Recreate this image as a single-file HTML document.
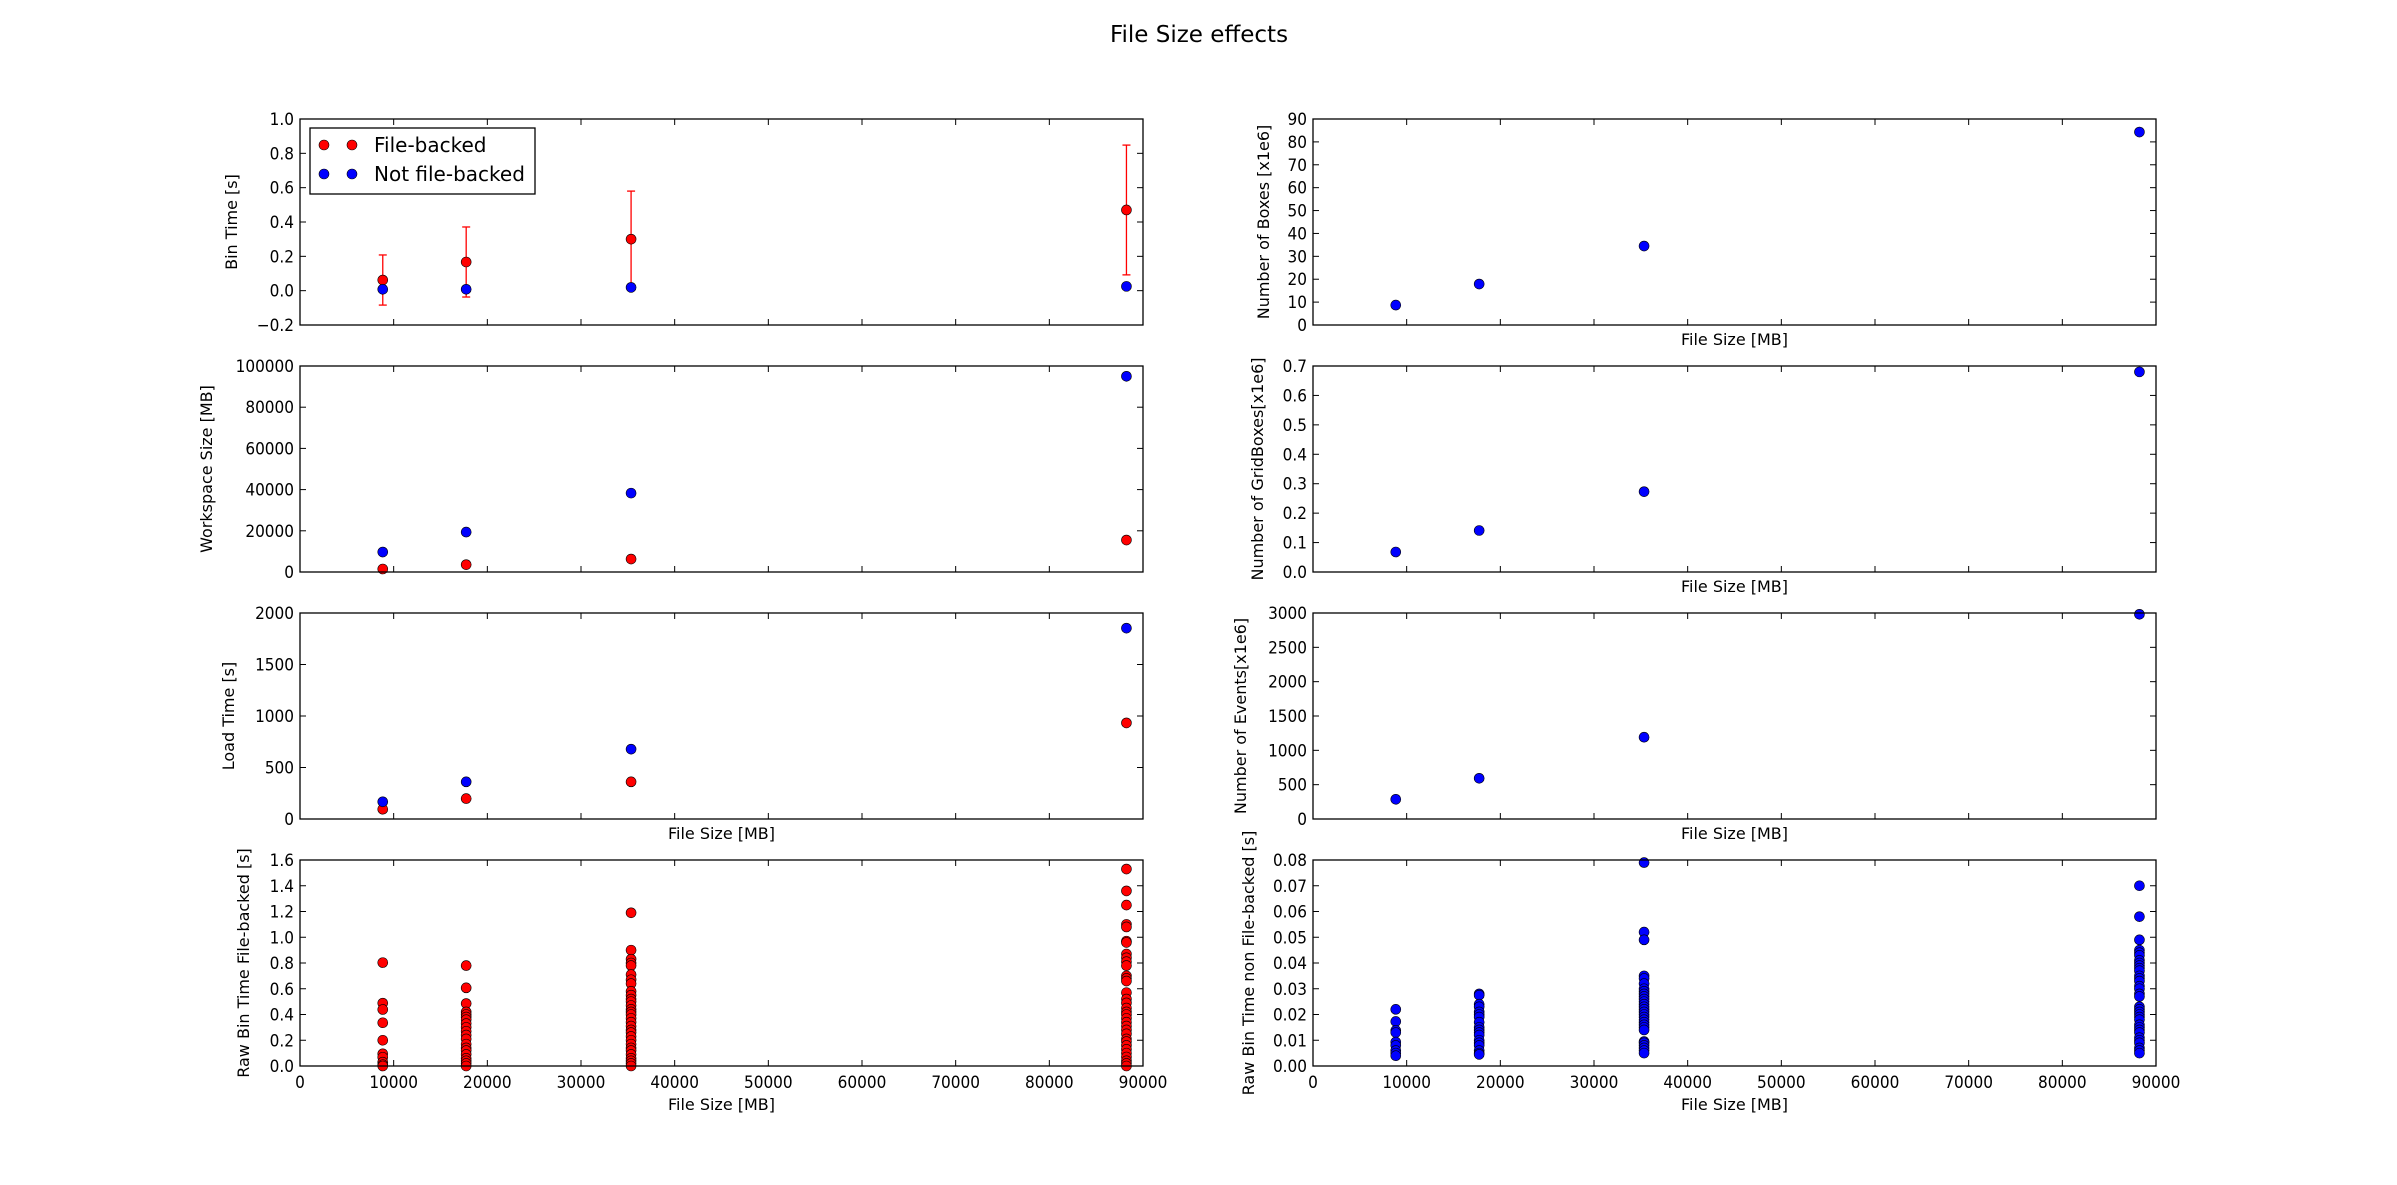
<!DOCTYPE html>
<html><head><meta charset="utf-8"><style>
html,body{margin:0;padding:0;background:#fff;}
svg{display:block;}
text{font-family:"DejaVu Sans","Liberation Sans",sans-serif;fill:#000;}
.tk{font-family:"DejaVu Sans Condensed","Liberation Sans Narrow","DejaVu Sans",sans-serif;font-size:17px;}
.lb{font-size:16px;}
</style></head><body>
<svg id="fig" width="2397" height="1185" viewBox="0 0 2397 1185" xmlns="http://www.w3.org/2000/svg">
<rect width="2397" height="1185" fill="#fff"/>
<text x="1199" y="42" text-anchor="middle" font-size="23">File Size effects</text>
</svg>
<script>
// ---- data ----
const fileSizes = [8837, 17742, 35347, 88233];
const binTimeFB = [0.062, 0.167, 0.30, 0.47];
const binTimeFBErr = [0.146, 0.204, 0.28, 0.378];
const binTimeNFB = [0.008, 0.008, 0.019, 0.025];
const wsFB = [1454, 3554, 6300, 15509];
const wsNFB = [9693, 19386, 38288, 95000];
const loadFB = [95, 198, 361, 933];
const loadNFB = [167, 361, 678, 1853];
const boxes = [8.7, 17.9, 34.5, 84.3];
const gridBoxes = [0.068, 0.141, 0.273, 0.68];
const events = [287, 593, 1191, 2981];
const rawFB0 = [0.803,0.488,0.439,0.336,0.2,0.095,0.068,0.03,0.01,0.0];
const rawFB1 = [0.78,0.607,0.485,0.42,0.40,0.38,0.36,0.33,0.30,0.27,0.24,0.21,0.17,0.14,0.12,0.09,0.06,0.04,0.02,0.0];
const rawFB2 = [1.19,0.90,0.83,0.80,0.78,0.71,0.67,0.64,0.58,0.55,0.52,0.50,0.47,0.44,0.42,0.40,0.37,0.34,0.31,0.28,0.26,0.23,0.20,0.17,0.14,0.12,0.09,0.06,0.04,0.02,0.0];
const rawFB3 = [1.53,1.36,1.25,1.10,1.08,0.97,0.96,0.87,0.84,0.81,0.78,0.70,0.68,0.66,0.57,0.52,0.49,0.45,0.42,0.40,0.37,0.34,0.31,0.28,0.25,0.21,0.19,0.16,0.13,0.10,0.07,0.04,0.02,0.0];
const rawNFB0 = [0.022,0.0173,0.0138,0.013,0.0093,0.008,0.006,0.005,0.004];
const rawNFB1 = [0.028,0.0275,0.024,0.023,0.021,0.020,0.019,0.017,0.015,0.014,0.013,0.012,0.010,0.009,0.008,0.006,0.005,0.0045];
const rawNFB2 = [0.079,0.052,0.049,0.035,0.034,0.032,0.030,0.029,0.028,0.027,0.026,0.025,0.024,0.023,0.022,0.021,0.020,0.019,0.018,0.017,0.016,0.015,0.014,0.0095,0.009,0.008,0.007,0.006,0.005];
const rawNFB3 = [0.070,0.058,0.049,0.045,0.044,0.043,0.041,0.040,0.039,0.038,0.037,0.035,0.034,0.033,0.031,0.030,0.028,0.027,0.023,0.022,0.021,0.020,0.019,0.018,0.016,0.015,0.014,0.013,0.011,0.010,0.009,0.007,0.006,0.005];
const xTicks = [0,10000,20000,30000,40000,50000,60000,70000,80000,90000];
const yTicks1 = ["-0.2","0.0","0.2","0.4","0.6","0.8","1.0"];
const yTicks2 = ["0","20000","40000","60000","80000","100000"];
const yTicks3 = ["0","500","1000","1500","2000"];
const yTicks4 = ["0.0","0.2","0.4","0.6","0.8","1.0","1.2","1.4","1.6"];
const yTicksR1 = ["0","10","20","30","40","50","60","70","80","90"];
const yTicksR2 = ["0.0","0.1","0.2","0.3","0.4","0.5","0.6","0.7"];
const yTicksR3 = ["0","500","1000","1500","2000","2500","3000"];
const yTicksR4 = ["0.00","0.01","0.02","0.03","0.04","0.05","0.06","0.07","0.08"];

const NS = "http://www.w3.org/2000/svg";
const svg = document.getElementById('fig');
function mk(tag, attrs, parent){
  const e = document.createElementNS(NS, tag);
  for (const k in attrs) e.setAttribute(k, attrs[k]);
  (parent||svg).appendChild(e);
  return e;
}
const tops = [119, 366, 613, 860];
const H = 206;
const lefts = [300, 1313];
const W = 843;

function panel(col, row, name, yTicks, ylabel, ylabX, showXLabel, showXTicks){
  const g = mk('g', {});
  
  
  const x0 = lefts[col], y0 = tops[row];
  const ymin = parseFloat(yTicks[0]), ymax = parseFloat(yTicks[yTicks.length-1]);
  const sx = v => x0 + (v - 0) / 90000 * W;
  const sy = v => y0 + H - (v - ymin) / (ymax - ymin) * H;
  const ax = {g, sx, sy};
  const tg = mk('g', {stroke:'#000','stroke-width':1}, g);
  xTicks.forEach(t => {
    const x = sx(t);
    mk('line', {x1:x, x2:x, y1:y0+H, y2:y0+H-6}, tg);
    mk('line', {x1:x, x2:x, y1:y0, y2:y0+6}, tg);
    if (showXTicks) {
      const tx = mk('text', {x:x, y:y0+H+22, 'text-anchor':'middle', class:'tk', stroke:'none'}, g);
      tx.textContent = t;
      
      
    }
  });
  yTicks.forEach(t => {
    const y = sy(parseFloat(t));
    mk('line', {x1:x0, x2:x0+6, y1:y, y2:y}, tg);
    mk('line', {x1:x0+W, x2:x0+W-6, y1:y, y2:y}, tg);
    const tx = mk('text', {x:x0-6, y:y+6, 'text-anchor':'end', class:'tk'}, g);
    tx.textContent = t.replace('-', '\u2212');
    
    
  });
  const yl = mk('text', {x:0, y:0, 'text-anchor':'middle', class:'lb', transform:`translate(${ylabX},${y0+H/2}) rotate(-90)`}, g);
  yl.textContent = ylabel;
  
  
  if (showXLabel) {
    const xl = mk('text', {x:x0+W/2, y: y0+H+(showXTicks?44:20), 'text-anchor':'middle', class:'lb'}, g);
    xl.textContent = 'File Size [MB]';
    
    
  }
  ax.frame = () => {
    const f = mk('rect', {x:x0, y:y0, width:W, height:H, fill:'none', stroke:'#000', 'stroke-width':1.3}, g);
    
    
  };
  ax.x0 = x0; ax.y0 = y0;
  return ax;
}
function dots(ax, xs, ys, color, name){
  const g = mk('g', {}, ax.g);
  
  
  ys.forEach((v, i) => {
    const c = mk('circle', {cx: ax.sx(xs[i]), cy: ax.sy(v), r:5, fill:color, stroke:'#000', 'stroke-width':0.6}, g);
    
    
  });
}
function column(ax, x, ys, color, name){
  dots(ax, ys.map(() => x), ys, color, name);
}

const a1 = panel(0, 0, 'bin-time-panel', yTicks1, 'Bin Time [s]', 237, false, false);
const eg = mk('g', {stroke:'#f00', 'stroke-width':1.3}, a1.g);


binTimeFB.forEach((v, i) => {
  const x = a1.sx(fileSizes[i]);
  const yt = a1.sy(v + binTimeFBErr[i]), yb = a1.sy(v - binTimeFBErr[i]);
  mk('line', {x1:x, x2:x, y1:yt, y2:yb}, eg);
  mk('line', {x1:x-4, x2:x+4, y1:yt, y2:yt}, eg);
  mk('line', {x1:x-4, x2:x+4, y1:yb, y2:yb}, eg);
});
dots(a1, fileSizes, binTimeFB, '#f00', 'file-backed-series');
dots(a1, fileSizes, binTimeNFB, '#00f', 'not-file-backed-series');
a1.frame();
const lg = mk('g', {});


mk('rect', {x:310, y:128, width:225, height:66, fill:'#fff', stroke:'#000', 'stroke-width':1.3}, lg);
[['File-backed','#f00',145],['Not file-backed','#00f',174]].forEach(([t,c,y]) => {
  const e = mk('g', {}, lg);
  
  
  mk('circle', {cx:324, cy:y, r:5, fill:c, stroke:'#000','stroke-width':0.6}, e);
  mk('circle', {cx:352, cy:y, r:5, fill:c, stroke:'#000','stroke-width':0.6}, e);
  const tx = mk('text', {x:374, y:y+7, 'font-size':20}, e);
  tx.textContent = t;
});

const a2 = panel(0, 1, 'workspace-size-panel', yTicks2, 'Workspace Size [MB]', 212, false, false);
dots(a2, fileSizes, wsFB, '#f00', 'file-backed-series');
dots(a2, fileSizes, wsNFB, '#00f', 'not-file-backed-series');
a2.frame();
const a3 = panel(0, 2, 'load-time-panel', yTicks3, 'Load Time [s]', 234, true, false);
dots(a3, fileSizes, loadFB, '#f00', 'file-backed-series');
dots(a3, fileSizes, loadNFB, '#00f', 'not-file-backed-series');
a3.frame();
const a4 = panel(0, 3, 'raw-bin-time-file-backed-panel', yTicks4, 'Raw Bin Time File-backed [s]', 249, true, true);
[rawFB0, rawFB1, rawFB2, rawFB3].forEach((arr, i) => column(a4, fileSizes[i], arr, '#f00', 'raw-file-backed-column'));
a4.frame();
const b1 = panel(1, 0, 'number-of-boxes-panel', yTicksR1, 'Number of Boxes [x1e6]', 1269, true, false);
dots(b1, fileSizes, boxes, '#00f', 'boxes-series');
b1.frame();
const b2 = panel(1, 1, 'number-of-gridboxes-panel', yTicksR2, 'Number of GridBoxes[x1e6]', 1263, true, false);
dots(b2, fileSizes, gridBoxes, '#00f', 'gridboxes-series');
b2.frame();
const b3 = panel(1, 2, 'number-of-events-panel', yTicksR3, 'Number of Events[x1e6]', 1246, true, false);
dots(b3, fileSizes, events, '#00f', 'events-series');
b3.frame();
const b4 = panel(1, 3, 'raw-bin-time-non-file-backed-panel', yTicksR4, 'Raw Bin Time non File-backed [s]', 1254, true, true);
[rawNFB0, rawNFB1, rawNFB2, rawNFB3].forEach((arr, i) => column(b4, fileSizes[i], arr, '#00f', 'raw-non-file-backed-column'));
b4.frame();
</script>
</body></html>
